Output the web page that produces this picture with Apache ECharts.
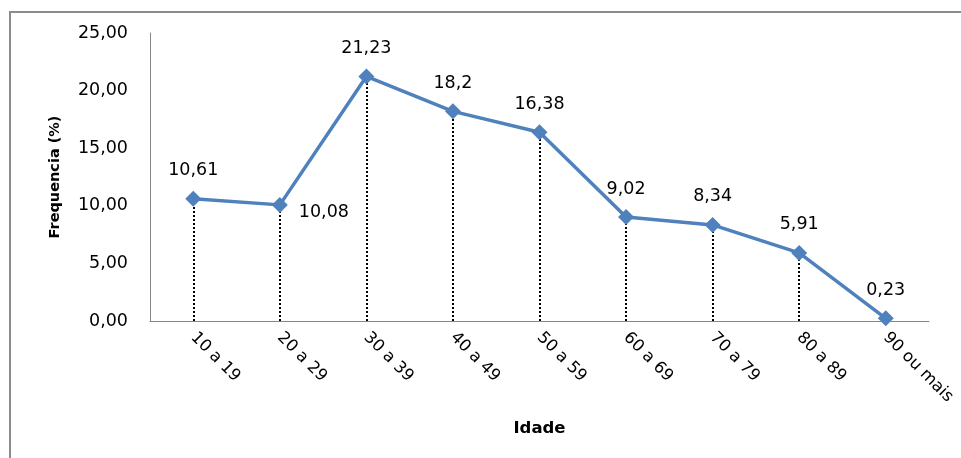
<!DOCTYPE html>
<html>
<head>
<meta charset="utf-8">
<script src="https://cdn.jsdelivr.net/npm/echarts@6/dist/echarts.min.js"></script>
<style>
html,body{margin:0;padding:0;background:#fff;}
#pic1{width:961px;height:458px;}
</style>
</head>
<body>
<div id="pic1"></div>
<script>
// faixas etarias e frequencias (%)
var idades = ['10 a 19', '20 a 29', '30 a 39', '40 a 49', '50 a 59', '60 a 69', '70 a 79', '80 a 89', '90 ou mais'];
var frequencias = [10.61, 10.08, 21.23, 18.2, 16.38, 9.02, 8.34, 5.91, 0.23];

var fonte = '"DejaVu Sans", sans-serif';
function virgula(v) { return String(v).replace('.', ','); }

var pontos = frequencias.map(function (v, i) {
    var p = { value: v };
    if (i === 1) {
        p.label = { position: 'right', offset: [0, 8] };
    }
    return p;
});

var linhas = frequencias.map(function (v, i) {
    return [{ coord: [i, 0] }, { coord: [i, v] }];
});

var myChart = echarts.init(document.getElementById('pic1'));
var option = {
    animation: false,
    textStyle: { fontFamily: fonte },
    graphic: [{
        type: 'rect',
        shape: { x: 10, y: 12, width: 3000, height: 3000 },
        style: { fill: 'none', stroke: '#8c8c8c', lineWidth: 2 },
        silent: true
    }],
    grid: { left: 150, right: 32, top: 33, bottom: 137 },
    xAxis: {
        type: 'category',
        data: idades,
        boundaryGap: true,
        axisLine: { lineStyle: { color: '#868686', width: 1 } },
        axisTick: { show: false },
        axisLabel: { rotate: -45, color: '#000', fontSize: 16.5, margin: 14, fontFamily: fonte },
        name: 'Idade',
        nameLocation: 'middle',
        nameGap: 99,
        nameTextStyle: { fontWeight: 'bold', fontSize: 16.5, color: '#000', fontFamily: fonte }
    },
    yAxis: {
        type: 'value',
        min: 0,
        max: 25,
        interval: 5,
        axisLine: { show: true, lineStyle: { color: '#868686', width: 1 } },
        axisTick: { show: false },
        splitLine: { show: false },
        axisLabel: {
            color: '#000', fontSize: 17.5, margin: 22, fontFamily: fonte,
            formatter: function (v) { return v.toFixed(2).replace('.', ','); }
        },
        name: 'Frequencia (%)',
        nameLocation: 'middle',
        nameGap: 87,
        nameTextStyle: { fontWeight: 'bold', fontSize: 14.5, color: '#000', fontFamily: fonte }
    },
    series: [{
        type: 'line',
        data: pontos,
        symbol: 'diamond',
        symbolSize: 16,
        itemStyle: { color: '#4F81BD' },
        lineStyle: { color: '#4F81BD', width: 3.5 },
        label: {
            show: true,
            position: 'top',
            distance: 11,
            color: '#000',
            fontSize: 17.5,
            fontFamily: fonte,
            formatter: function (p) { return virgula(p.value); }
        },
        markLine: {
            silent: true,
            symbol: 'none',
            label: { show: false },
            lineStyle: { color: '#000', type: [2, 2], width: 2 },
            data: linhas,
            z: 1
        },
        z: 3
    }]
};
myChart.setOption(option);
</script>
</body>
</html>
